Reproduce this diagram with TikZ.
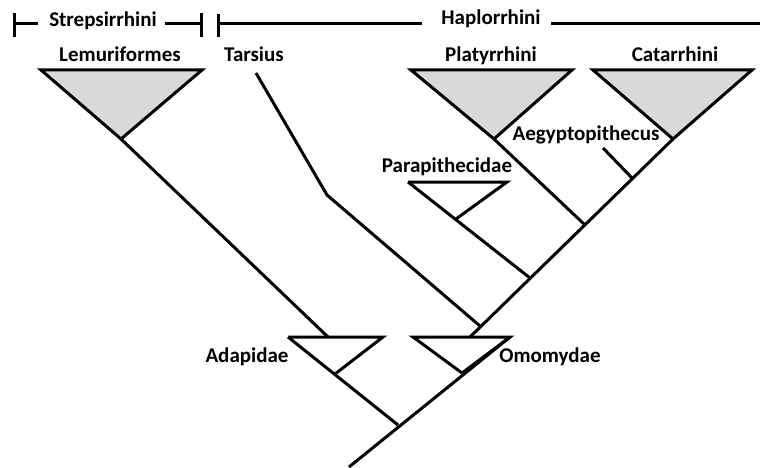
\documentclass[tikz,border=0pt]{standalone}
\usepackage{fontspec}
\setmainfont{Carlito}
\usetikzlibrary{positioning,calc}

\begin{document}
\begin{tikzpicture}[x=1pt, y=-1pt, line width=3pt,
  taxon/.style={font=\bfseries\fontsize{21}{25}\selectfont, inner sep=0pt, anchor=base},
  crown/.style={draw, fill=black!15, line join=miter},
  stem/.style={draw, line join=miter}]
  \useasboundingbox (0,0) rectangle (760,468);

  % Group brackets
  \node[taxon] (strep) at (103,27) {Strepsirrhini};
  \node[taxon] (haplo) at (491,25) {Haplorrhini};
  \coordinate (sL) at (14,24); \coordinate (sR) at (201,24);
  \coordinate (hL) at (218,24); \coordinate (hR) at (760,24);
  \draw (sL) -- (38,24);
  \draw (165,24) -- (sR);
  \draw (hL) -- (422,24);
  \draw (551,24) -- (hR);
  \draw ([yshift=-13pt]sL) -- ([yshift=11pt]sL);
  \draw ([yshift=-13pt]sR) -- ([yshift=11pt]sR);
  \draw ([yshift=-13pt]hL) -- ([yshift=10pt]hL);

  % Crown groups
  \node[taxon] (lemur) at (120,62) {Lemuriformes};
  \node[taxon] (tars) at (254,62) {Tarsius};
  \node[taxon] (platy) at (491,62) {Platyrrhini};
  \node[taxon] (catar) at (675,62) {Catarrhini};
  \coordinate (lemA) at (121,139);
  \coordinate (platA) at (494,139);
  \coordinate (catA) at (673,139);
  \draw[crown] (41,70) -- (202,70) -- (lemA) -- cycle;
  \draw[crown] (411,70) -- (572,70) -- (platA) -- cycle;
  \draw[crown] (593,70) -- (752,70) -- (catA) -- cycle;

  % Fossil groups
  \node[taxon] (adap) at (247,362) {Adapidae};
  \node[taxon] (omom) at (550,362) {Omomydae};
  \node[taxon] (parap) at (447,172) {Parapithecidae};
  \node[taxon] (aegyp) at (586,140) {Aegyptopithecus};
  \coordinate (adaL) at (288,337); \coordinate (adaR) at (383,337); \coordinate (adaA) at (335,374);
  \coordinate (omoL) at (413,337); \coordinate (omoR) at (510,337); \coordinate (omoA) at (462,373);
  \coordinate (parL) at (408,182); \coordinate (parR) at (507,182); \coordinate (parA) at (456,219);
  \draw[stem] (adaL) -- (adaR) -- (adaA);
  \draw[stem] (omoA) -- (omoL) -- (omoR) -- (omoA);
  \draw[stem] (parL) -- (parR) -- (parA);

  % Branches
  \coordinate (root) at (398,425);
  \coordinate (base) at (349,467);
  \coordinate (hapJ) at (470,337);
  \coordinate (tarJ) at (480,326);
  \coordinate (parJ) at (530,278);
  \coordinate (plaJ) at (585,225);
  \coordinate (aegJ) at (633,179);
  \draw[stem] (lemA) -- (328,337);
  \draw[stem] (adaL) -- (root);
  \draw[stem] (omoR) -- (base);
  \draw[stem] (hapJ) -- (catA);
  \draw[stem] (256,73) -- (327,195) -- (tarJ);
  \draw[stem] (parL) -- (parJ);
  \draw[stem] (platA) -- (plaJ);
  \draw[stem] (603,148) -- (aegJ);
\end{tikzpicture}
\end{document}
